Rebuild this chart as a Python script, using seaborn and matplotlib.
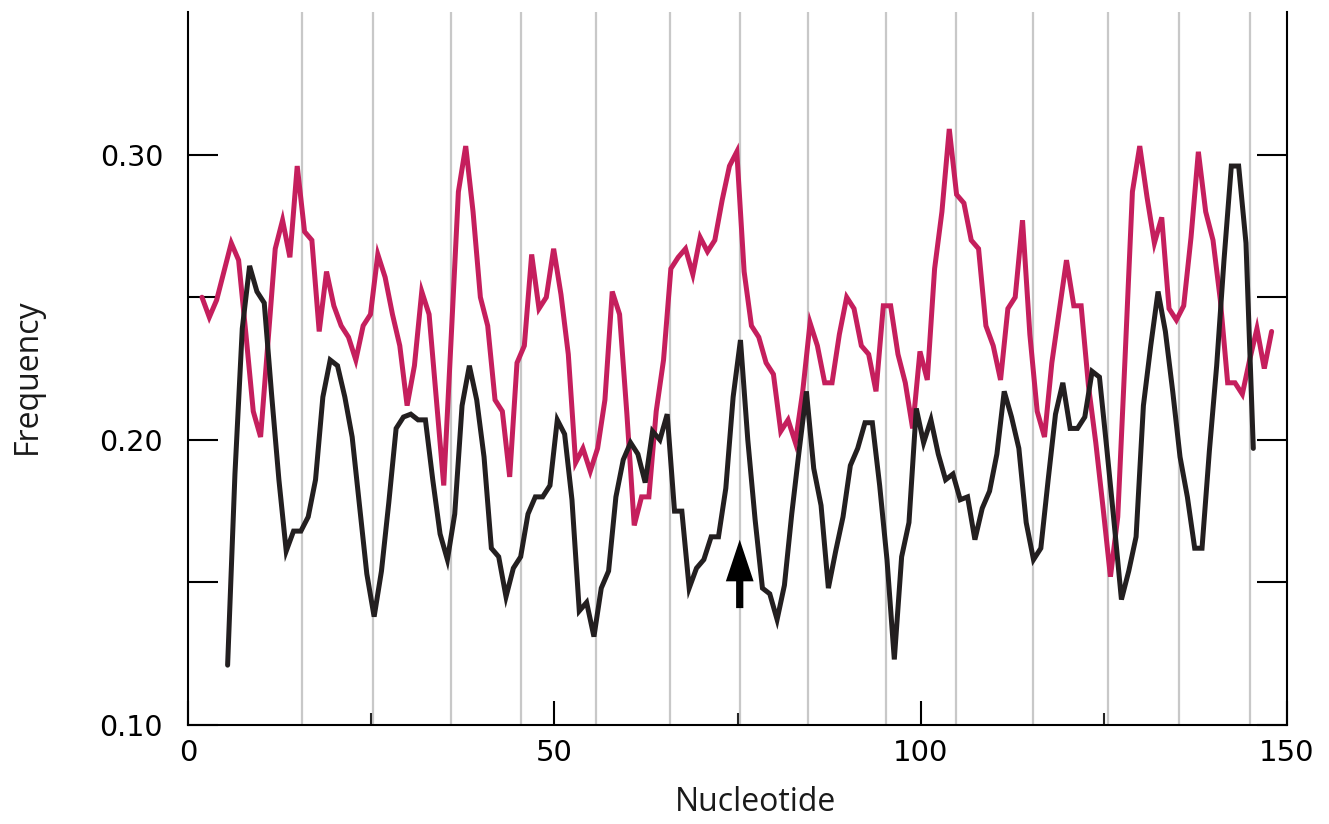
import numpy as np
import pandas as pd
import seaborn as sns
import matplotlib.pyplot as plt

# frequencies read per nucleotide (red: 2..148, black: 5..145)
red_first = 2
red_freq = [0.250, 0.243, 0.249, 0.259, 0.269, 0.263, 0.237, 0.210, 0.201, 0.234,
            0.267, 0.277, 0.264, 0.296, 0.273, 0.270, 0.238, 0.259, 0.247, 0.240,
            0.236, 0.228, 0.240, 0.244, 0.265, 0.257, 0.244, 0.233, 0.212, 0.226,
            0.252, 0.244, 0.214, 0.184, 0.235, 0.287, 0.303, 0.280, 0.250, 0.240,
            0.214, 0.210, 0.187, 0.227, 0.233, 0.265, 0.246, 0.250, 0.267, 0.251,
            0.230, 0.192, 0.197, 0.189, 0.197, 0.214, 0.252, 0.244, 0.209, 0.170,
            0.180, 0.180, 0.210, 0.228, 0.260, 0.264, 0.267, 0.258, 0.271, 0.266,
            0.270, 0.284, 0.296, 0.301, 0.259, 0.240, 0.236, 0.227, 0.223, 0.203,
            0.207, 0.199, 0.217, 0.241, 0.233, 0.220, 0.220, 0.237, 0.250, 0.246,
            0.233, 0.230, 0.217, 0.247, 0.247, 0.230, 0.220, 0.204, 0.231, 0.221,
            0.260, 0.280, 0.309, 0.286, 0.283, 0.270, 0.267, 0.240, 0.233, 0.221,
            0.246, 0.250, 0.277, 0.237, 0.210, 0.201, 0.227, 0.245, 0.263, 0.247,
            0.247, 0.219, 0.199, 0.176, 0.152, 0.173, 0.229, 0.287, 0.303, 0.285,
            0.269, 0.278, 0.246, 0.242, 0.247, 0.271, 0.301, 0.280, 0.270, 0.249,
            0.220, 0.220, 0.216, 0.228, 0.239, 0.225, 0.238]

black_first = 5
black_freq = [0.121, 0.188, 0.239, 0.261, 0.252, 0.248, 0.216, 0.186, 0.161, 0.168,
              0.168, 0.173, 0.186, 0.215, 0.228, 0.226, 0.215, 0.201, 0.177, 0.153,
              0.138, 0.154, 0.178, 0.204, 0.208, 0.209, 0.207, 0.207, 0.186, 0.167,
              0.158, 0.174, 0.212, 0.226, 0.214, 0.194, 0.162, 0.159, 0.145, 0.155,
              0.159, 0.174, 0.180, 0.180, 0.184, 0.207, 0.202, 0.179, 0.140, 0.143,
              0.131, 0.148, 0.154, 0.180, 0.193, 0.199, 0.195, 0.185, 0.203, 0.200,
              0.209, 0.175, 0.175, 0.148, 0.155, 0.158, 0.166, 0.166, 0.183, 0.215,
              0.235, 0.200, 0.172, 0.148, 0.146, 0.137, 0.149, 0.174, 0.196, 0.217,
              0.190, 0.177, 0.148, 0.161, 0.173, 0.191, 0.197, 0.206, 0.206, 0.184,
              0.158, 0.123, 0.159, 0.171, 0.211, 0.199, 0.207, 0.195, 0.186, 0.188,
              0.179, 0.180, 0.165, 0.176, 0.182, 0.195, 0.217, 0.208, 0.197, 0.171,
              0.158, 0.162, 0.186, 0.209, 0.220, 0.204, 0.204, 0.208, 0.224, 0.222,
              0.197, 0.171, 0.144, 0.154, 0.166, 0.212, 0.233, 0.252, 0.238, 0.217,
              0.194, 0.180, 0.162, 0.162, 0.196, 0.226, 0.263, 0.296, 0.296, 0.269,
              0.197]

# helical repeat guide lines and the arrow position
helix_nt = [15.5, 25.3, 35.9, 45.5, 55.75, 65.8, 75.3, 84.6, 95.2, 104.8,
            115.3, 125.6, 135.2, 145.0]
arrow_nt = 75.3

x_ticks = [0, 50, 100, 150]
x_minor = [25, 75, 125]
y_ticks = [0.10, 0.15, 0.20, 0.25, 0.30]
y_labels = ["0.10", "", "0.20", "", "0.30"]

red_df = pd.DataFrame({"nt": np.arange(len(red_freq)) + red_first - 0.1,
                       "freq": red_freq})
black_df = pd.DataFrame({"nt": np.arange(len(black_freq)) + black_first + 0.4,
                         "freq": black_freq})

sns.set_style("ticks")
plt.rcParams["font.family"] = ["DejaVu Sans"]

fig = plt.figure(figsize=(13.29, 8.24), dpi=100)
ax = fig.add_axes([0.1415, 0.1201, 0.8269, 0.8653])

for g in helix_nt:
    ax.axvline(g, color="#c8c8c8", lw=1.6, zorder=0)

sns.lineplot(data=red_df, x="nt", y="freq", color="#c51f5d", lw=3.6, ax=ax,
             solid_joinstyle="miter")
sns.lineplot(data=black_df, x="nt", y="freq", color="#231f20", lw=3.6, ax=ax,
             solid_joinstyle="miter")

ax.annotate("", xy=(arrow_nt, 0.165), xytext=(arrow_nt, 0.141),
            arrowprops=dict(arrowstyle="simple,head_length=0.75,head_width=0.5,tail_width=0.13",
                            mutation_scale=40, fc="black", ec="none",
                            shrinkA=0, shrinkB=0))

ax.set_xlim(0, 150)
ax.set_ylim(0.10, 0.35)
ax.set_xticks(x_ticks)
ax.set_xticks(x_minor, minor=True)
ax.set_yticks(y_ticks)
ax.set_yticklabels(y_labels)

ax.tick_params(axis="x", which="major", direction="in", length=17, width=1.5,
               labelsize=21, pad=10, colors="black")
ax.tick_params(axis="x", which="minor", direction="in", length=8.6, width=1.5)
ax.tick_params(axis="y", direction="in", length=21.6, width=1.5, right=True,
               labelsize=20.5, pad=18, colors="black")

for side in ["left", "right", "bottom"]:
    ax.spines[side].set_linewidth(1.5)
    ax.spines[side].set_color("black")
ax.spines["top"].set_visible(False)

ax.set_xlabel("Nucleotide", fontsize=23, family=["Open Sans", "DejaVu Sans"],
              color="#1a1a1a")
ax.set_ylabel("Frequency", fontsize=23, family=["Open Sans", "DejaVu Sans"],
              color="#1a1a1a")
ax.xaxis.set_label_coords(0.516, -0.085)
ax.yaxis.set_label_coords(-0.131, 0.489)

fig.savefig("out.png", dpi=100)
